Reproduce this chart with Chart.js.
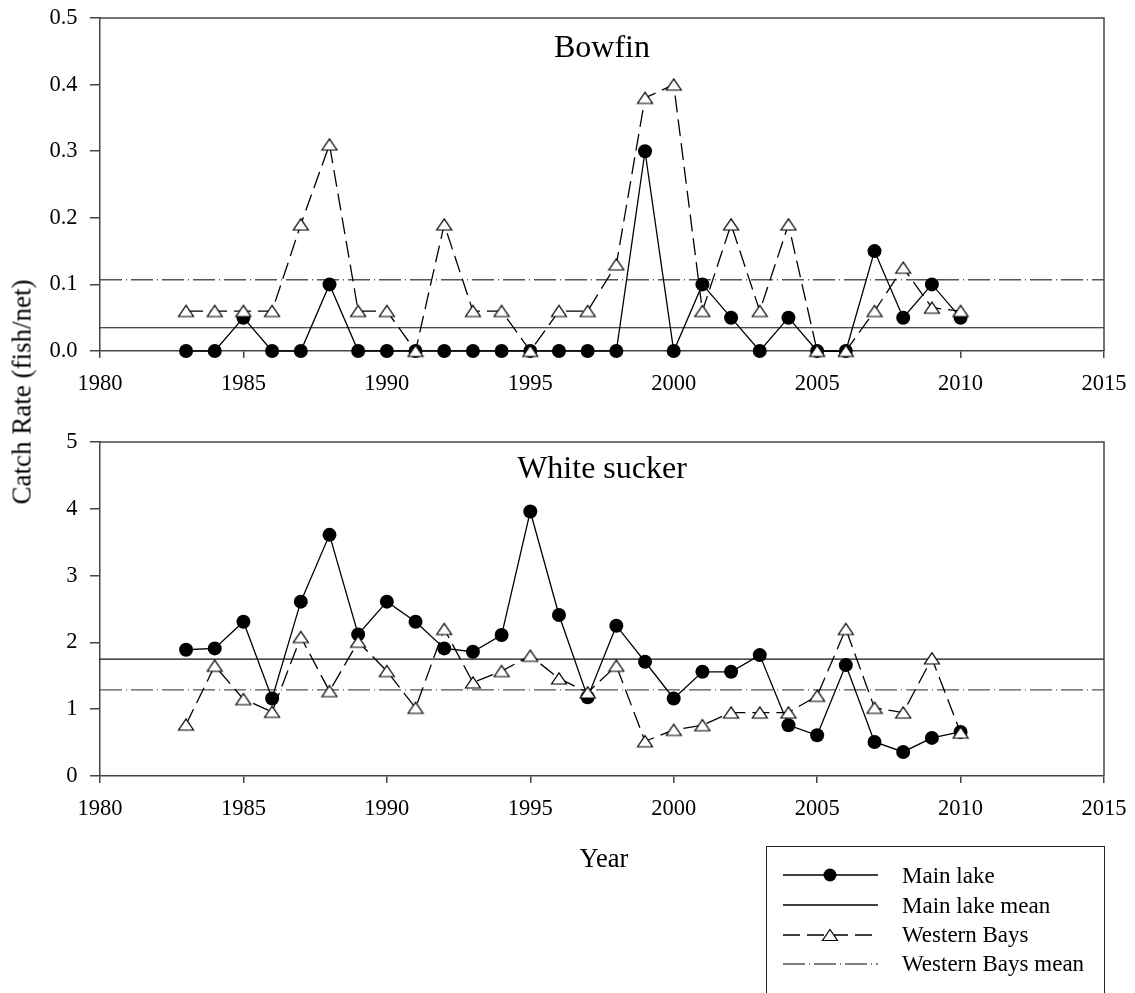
<!DOCTYPE html>
<html>
<head>
<meta charset="utf-8">
<title>Bowfin and White sucker catch rates</title>
<script src="https://cdn.jsdelivr.net/npm/chart.js@4.4.1/dist/chart.umd.min.js"></script>
<style>
  html, body { margin: 0; padding: 0; background: #fff; }
  body { width: 1135px; height: 993px; position: relative; overflow: hidden;
         font-family: "Liberation Serif", "Times New Roman", serif; color: #000; }
  canvas { position: absolute; left: 0; }
  #bowfin { top: 0; }
  #sucker { top: 420px; }
  #yTitle { position: absolute; left: 22px; top: 392px; font-size: 27px; line-height: 1;
            white-space: nowrap; transform: translate(-50%, -50%) rotate(-90deg); }
  #xTitle { position: absolute; left: 604px; top: 858px; font-size: 26.5px; line-height: 1;
            white-space: nowrap; transform: translate(-50%, -50%); }
  #legend { position: absolute; left: 766px; top: 846px; width: 339px; height: 200px;
            border: 1.5px solid #222; border-bottom: none; box-sizing: border-box; }
  .row { position: absolute; left: 0; height: 0; }
  .row svg { position: absolute; left: 15.5px; top: -10px; }
  .row span { position: absolute; left: 135px; top: -11.5px; font-size: 23px; line-height: 23px;
              white-space: nowrap; }
</style>
</head>
<body>
<canvas id="bowfin" width="1135" height="420"></canvas>
<canvas id="sucker" width="1135" height="573"></canvas>
<div id="yTitle">Catch Rate (fish/net)</div>
<div id="xTitle">Year</div>
<div id="legend">
  <div class="row" style="top:28px">
    <svg width="100" height="20"><line x1="0" y1="10" x2="95" y2="10" stroke="#000" stroke-width="1.5"/><circle cx="47" cy="10" r="6.5" fill="#000"/></svg>
    <span>Main lake</span>
  </div>
  <div class="row" style="top:58px">
    <svg width="100" height="20"><line x1="0" y1="10" x2="95" y2="10" stroke="#000" stroke-width="1.3"/></svg>
    <span>Main lake mean</span>
  </div>
  <div class="row" style="top:87.5px">
    <svg width="100" height="20"><line x1="0" y1="10" x2="95" y2="10" stroke="#000" stroke-width="1.3" stroke-dasharray="17 7"/><polygon points="39.5,15.5 54.5,15.5 47,4.5" fill="#fff" stroke="#000" stroke-width="1.2"/></svg>
    <span>Western Bays</span>
  </div>
  <div class="row" style="top:116.5px">
    <svg width="100" height="20"><line x1="0" y1="10" x2="95" y2="10" stroke="#555" stroke-width="1.3" stroke-dasharray="22 4 1 4"/></svg>
    <span>Western Bays mean</span>
  </div>
</div>
<script>
// Survey years
const years = [1983, 1984, 1985, 1986, 1987, 1988, 1989, 1990, 1991, 1992, 1993, 1994, 1995, 1996,
               1997, 1998, 1999, 2000, 2001, 2002, 2003, 2004, 2005, 2006, 2007, 2008, 2009, 2010];

// Bowfin catch rate (fish/net)
const bowfinMainLake = [0, 0, 0.05, 0, 0, 0.10, 0, 0, 0, 0, 0, 0, 0, 0,
                        0, 0, 0.30, 0, 0.10, 0.05, 0, 0.05, 0, 0, 0.15, 0.05, 0.10, 0.05];
const bowfinWesternBays = [0.06, 0.06, 0.06, 0.06, 0.19, 0.31, 0.06, 0.06, 0, 0.19, 0.06, 0.06, 0, 0.06,
                           0.06, 0.13, 0.38, 0.40, 0.06, 0.19, 0.06, 0.19, 0, 0, 0.06, 0.125, 0.065, 0.06];
const bowfinMeans = [0.035, 0.107];          // main lake, western bays

// White sucker catch rate (fish/net)
const suckerMainLake = [1.89, 1.91, 2.31, 1.16, 2.61, 3.61, 2.12, 2.61, 2.31, 1.91, 1.86, 2.11, 3.96, 2.41,
                        1.18, 2.25, 1.71, 1.16, 1.56, 1.56, 1.81, 0.76, 0.61, 1.66, 0.51, 0.36, 0.57, 0.66];
const suckerWesternBays = [0.77, 1.65, 1.15, 0.96, 2.08, 1.27, 2.01, 1.57, 1.02, 2.20, 1.40, 1.57, 1.80, 1.46,
                           1.25, 1.65, 0.52, 0.69, 0.76, 0.95, 0.95, 0.95, 1.20, 2.20, 1.02, 0.95, 1.76, 0.65];
const suckerMeans = [1.75, 1.29];            // main lake, western bays

// Axis ticks
const yearTicks = [1980, 1985, 1990, 1995, 2000, 2005, 2010, 2015];
const bowfinTickValues = [0, 0.1, 0.2, 0.3, 0.4, 0.5];
const bowfinTickLabels = ['0.0', '0.1', '0.2', '0.3', '0.4', '0.5'];
const suckerTickValues = [0, 1, 2, 3, 4, 5];
const suckerTickLabels = ['0', '1', '2', '3', '4', '5'];

const serif = '"Liberation Serif", "Times New Roman", serif';
const axisColor = '#444';

function pairs(xs, ys) {
  return xs.map((x, i) => ({ x: x, y: ys[i] }));
}

// Open triangle marker
function triangleMarker() {
  const c = document.createElement('canvas');
  c.width = 18; c.height = 15;
  const g = c.getContext('2d');
  g.beginPath();
  g.moveTo(1.5, 13); g.lineTo(16.5, 13); g.lineTo(9, 1.8); g.closePath();
  g.fillStyle = '#fff'; g.fill();
  g.lineWidth = 1.2; g.strokeStyle = '#000'; g.stroke();
  return c;
}
const triangle = triangleMarker();

// Top/right frame lines and the species name inside the plot area
const panelFrame = {
  id: 'panelFrame',
  afterDatasetsDraw(chart, args, opts) {
    const { ctx, chartArea: a } = chart;
    ctx.save();
    ctx.strokeStyle = axisColor;
    ctx.lineWidth = 1.5;
    ctx.beginPath();
    ctx.moveTo(a.left, a.top);
    ctx.lineTo(a.right, a.top);
    ctx.lineTo(a.right, a.bottom);
    ctx.stroke();
    ctx.font = '32px ' + serif;
    ctx.fillStyle = '#000';
    ctx.textAlign = 'center';
    ctx.textBaseline = 'middle';
    ctx.fillText(opts.text, (a.left + a.right) / 2, a.top + opts.offset);
    ctx.restore();
  }
};

function makePanel(id, name, mainLake, westernBays, means, tickValues, tickLabels, geom) {
  const first = yearTicks[0];
  const last = yearTicks[yearTicks.length - 1];
  return new Chart(document.getElementById(id), {
    type: 'line',
    data: {
      datasets: [
        { label: 'Western Bays', data: pairs(years, westernBays), borderColor: '#000', borderWidth: 1.3,
          borderDash: [17, 7], pointStyle: triangle, pointRadius: 8, pointHoverRadius: 8,
          order: 0, clip: false },
        { label: 'Main lake', data: pairs(years, mainLake), borderColor: '#000', backgroundColor: '#000',
          borderWidth: 1.3, pointStyle: 'circle', pointRadius: 7, pointHoverRadius: 7, pointBorderWidth: 0,
          pointBackgroundColor: '#000', order: 1, clip: false },
        { label: 'Main lake mean', data: [{ x: first, y: means[0] }, { x: last, y: means[0] }],
          borderColor: '#111', borderWidth: 1.1, pointRadius: 0, order: 2 },
        { label: 'Western Bays mean', data: [{ x: first, y: means[1] }, { x: last, y: means[1] }],
          borderColor: '#555', borderWidth: 1.4, borderDash: [22, 4, 1, 4], pointRadius: 0, order: 3 }
      ]
    },
    options: {
      responsive: false,
      animation: false,
      devicePixelRatio: 1,
      events: [],
      layout: { padding: { left: 0, top: geom.top, right: 31, bottom: 0 } },
      plugins: {
        legend: { display: false },
        tooltip: { enabled: false },
        title: { display: false },
        panelFrame: { text: name, offset: geom.titleOffset }
      },
      scales: {
        x: {
          type: 'linear', min: first, max: last,
          afterBuildTicks: s => { s.ticks = yearTicks.map(v => ({ value: v })); },
          ticks: { callback: v => String(v), font: { family: serif, size: 22.5 }, color: '#000',
                   padding: 13, maxRotation: 0, autoSkip: false },
          grid: { drawOnChartArea: false, drawTicks: true, tickLength: 7, color: axisColor, lineWidth: 1.5 },
          border: { display: true, color: axisColor, width: 1.5 },
          afterFit: s => {
            s.height = geom.xAxisHeight;
            s.paddingLeft = 0; s.paddingRight = 0;
          }
        },
        y: {
          type: 'linear', min: tickValues[0], max: tickValues[tickValues.length - 1],
          afterBuildTicks: s => { s.ticks = tickValues.map(v => ({ value: v })); },
          ticks: { callback: (v, i) => tickLabels[i], font: { family: serif, size: 22.5 }, color: '#000',
                   padding: 12.5, autoSkip: false },
          grid: { drawOnChartArea: false, drawTicks: true, tickLength: 10, color: axisColor, lineWidth: 1.5 },
          border: { display: true, color: axisColor, width: 1.5 },
          afterFit: s => {
            s.width = 100;
            s.paddingTop = 0; s.paddingBottom = 0;
          }
        }
      }
    },
    plugins: [panelFrame]
  });
}

makePanel('bowfin', 'Bowfin', bowfinMainLake, bowfinWesternBays, bowfinMeans,
          bowfinTickValues, bowfinTickLabels, { top: 18, xAxisHeight: 69, titleOffset: 31 });
makePanel('sucker', 'White sucker', suckerMainLake, suckerWesternBays, suckerMeans,
          suckerTickValues, suckerTickLabels, { top: 22, xAxisHeight: 217, titleOffset: 27.5 });
</script>
</body>
</html>
